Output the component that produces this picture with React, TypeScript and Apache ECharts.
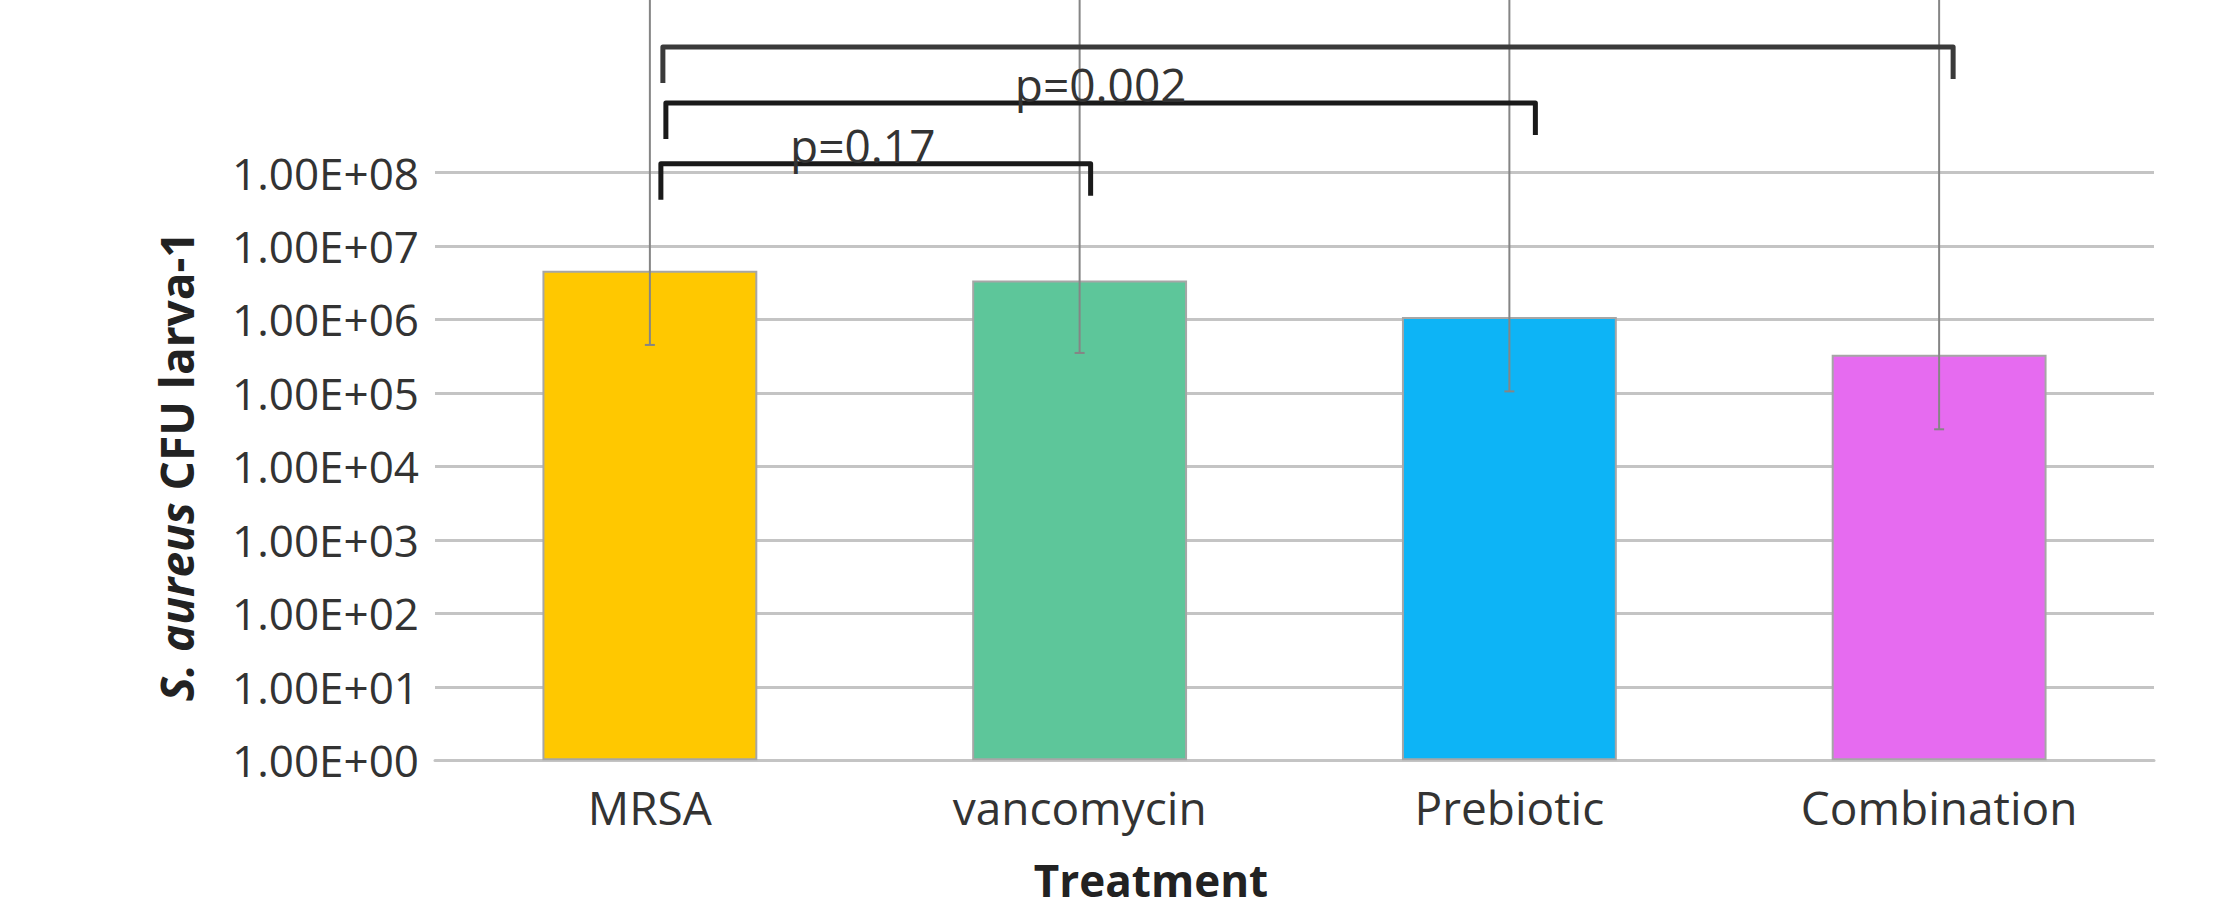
import React, { useEffect, useRef } from "react";
import * as echarts from "echarts";

const categories = ["MRSA", "vancomycin", "Prebiotic", "Combination"];
const meanCFU = [4.6e6, 3.4e6, 1.08e6, 3.3e5];
const errLow = [4.5e5, 3.5e5, 1.05e5, 3.2e4];
const errHigh = [1e11, 1e11, 1e11, 1e11];
const barColors = ["#FFC800", "#5DC69A", "#0DB4F6", "#E66BF0"];
const yTickLabels = [
  "1.00E+00",
  "1.00E+01",
  "1.00E+02",
  "1.00E+03",
  "1.00E+04",
  "1.00E+05",
  "1.00E+06",
  "1.00E+07",
  "1.00E+08",
];
// significance brackets: from category, to category, level, label
const bracketFrom = [0, 0, 0];
const bracketTo = [1, 2, 3];
const bracketLevel = [1.32e8, 8.8e8, 5.1e9];
const bracketLabels = ["p=0.17", "p=0.002", ""];

// drawing styles for the hand-placed brackets (pixel nudges, not data)
const bracketColors = ["#1a1a1a", "#1a1a1a", "#3a3a3a"];
const bracketLeftShift = [11, 16, 13];
const bracketRightShift = [11, 26, 14];
const bracketLabelShift = [-13, 0, 0];

const FONT = "'Open Sans', sans-serif";

export default function App() {
  const ref = useRef<HTMLDivElement>(null);

  useEffect(() => {
    document.body.style.margin = "0";
    if (!ref.current) return;
    const chart = echarts.init(ref.current, undefined, { renderer: "svg" });

    const option: any = {
      animation: false,
      backgroundColor: "#ffffff",
      grid: { left: 435, right: 68, top: 172.5, bottom: 152.7 },
      xAxis: {
        type: "category",
        data: categories,
        axisTick: { show: false },
        axisLine: { show: true, lineStyle: { color: "#c4c4c4", width: 3 } },
        axisLabel: {
          margin: 24,
          fontFamily: FONT,
          fontSize: 46,
          color: "#333333",
        },
      },
      yAxis: {
        type: "log",
        logBase: 10,
        min: 1,
        max: 1e8,
        splitNumber: 8,
        axisLine: { show: false },
        axisTick: { show: false },
        splitLine: { show: true, lineStyle: { color: "#c4c4c4", width: 3 } },
        axisLabel: {
          margin: 16,
          fontFamily: FONT,
          fontSize: 44,
          color: "#333333",
          formatter: (v: number) => yTickLabels[Math.round(Math.log10(v))] ?? "",
        },
        name: "{i|S. aureus} CFU larva-1",
        nameLocation: "middle",
        nameRotate: 90,
        nameGap: 236,
        nameTextStyle: {
          fontFamily: FONT,
          fontSize: 46,
          fontWeight: "bold",
          color: "#222222",
          rich: {
            i: {
              fontFamily: FONT,
              fontSize: 46,
              fontWeight: "bold",
              fontStyle: "italic",
              color: "#222222",
            },
          },
        },
      },
      series: [
        {
          type: "bar",
          barWidth: "50%",
          data: meanCFU.map((v, i) => ({
            value: v,
            itemStyle: {
              color: barColors[i],
              borderColor: "#a6a6a6",
              borderWidth: 2,
            },
          })),
          z: 2,
        },
        {
          type: "custom",
          clip: false,
          z: 3,
          encode: { x: 0, y: [1, 2] },
          data: categories.map((_, i) => [i, errLow[i], errHigh[i]]),
          renderItem: (params: any, api: any) => {
            const lo = api.coord([api.value(0), api.value(1)]);
            const hi = api.coord([api.value(0), api.value(2)]);
            const style = { stroke: "#858585", lineWidth: 2 };
            return {
              type: "group",
              children: [
                {
                  type: "line",
                  shape: { x1: lo[0], y1: lo[1], x2: hi[0], y2: hi[1] },
                  style,
                },
                {
                  type: "line",
                  shape: { x1: lo[0] - 5, y1: lo[1], x2: lo[0] + 5, y2: lo[1] },
                  style,
                },
              ],
            };
          },
        },
        {
          type: "custom",
          clip: false,
          z: 4,
          encode: { x: [0, 1], y: 2 },
          data: bracketFrom.map((f, i) => [f, bracketTo[i], bracketLevel[i]]),
          renderItem: (params: any, api: any) => {
            const idx = params.dataIndex;
            const a = api.coord([api.value(0), api.value(2)]);
            const b = api.coord([api.value(1), api.value(2)]);
            const xL = a[0] + bracketLeftShift[idx];
            const xR = b[0] + bracketRightShift[idx];
            const y = a[1];
            const color = bracketColors[idx];
            const children: any[] = [
              {
                type: "polyline",
                shape: {
                  points: [
                    [xL, y + 36],
                    [xL, y],
                    [xR, y],
                    [xR, y + 32],
                  ],
                },
                style: {
                  stroke: color,
                  lineWidth: 5,
                  fill: "none",
                  lineJoin: "round",
                },
              },
            ];
            if (bracketLabels[idx]) {
              children.push({
                type: "text",
                x: (xL + xR) / 2 + bracketLabelShift[idx],
                y: y + 4,
                style: {
                  text: bracketLabels[idx],
                  fontFamily: FONT,
                  fontSize: 46,
                  fill: "#333333",
                  align: "center",
                  verticalAlign: "bottom",
                },
              });
            }
            return { type: "group", children };
          },
        },
      ],
      graphic: [
        {
          type: "text",
          x: 1151,
          y: 880,
          style: {
            text: "Treatment",
            fontFamily: FONT,
            fontSize: 44,
            fontWeight: "bold",
            fill: "#222222",
            align: "center",
            verticalAlign: "middle",
          },
        },
      ],
    };

    chart.setOption(option);
    return () => chart.dispose();
  }, []);

  return <div ref={ref} style={{ width: 2222, height: 913 }} />;
}
